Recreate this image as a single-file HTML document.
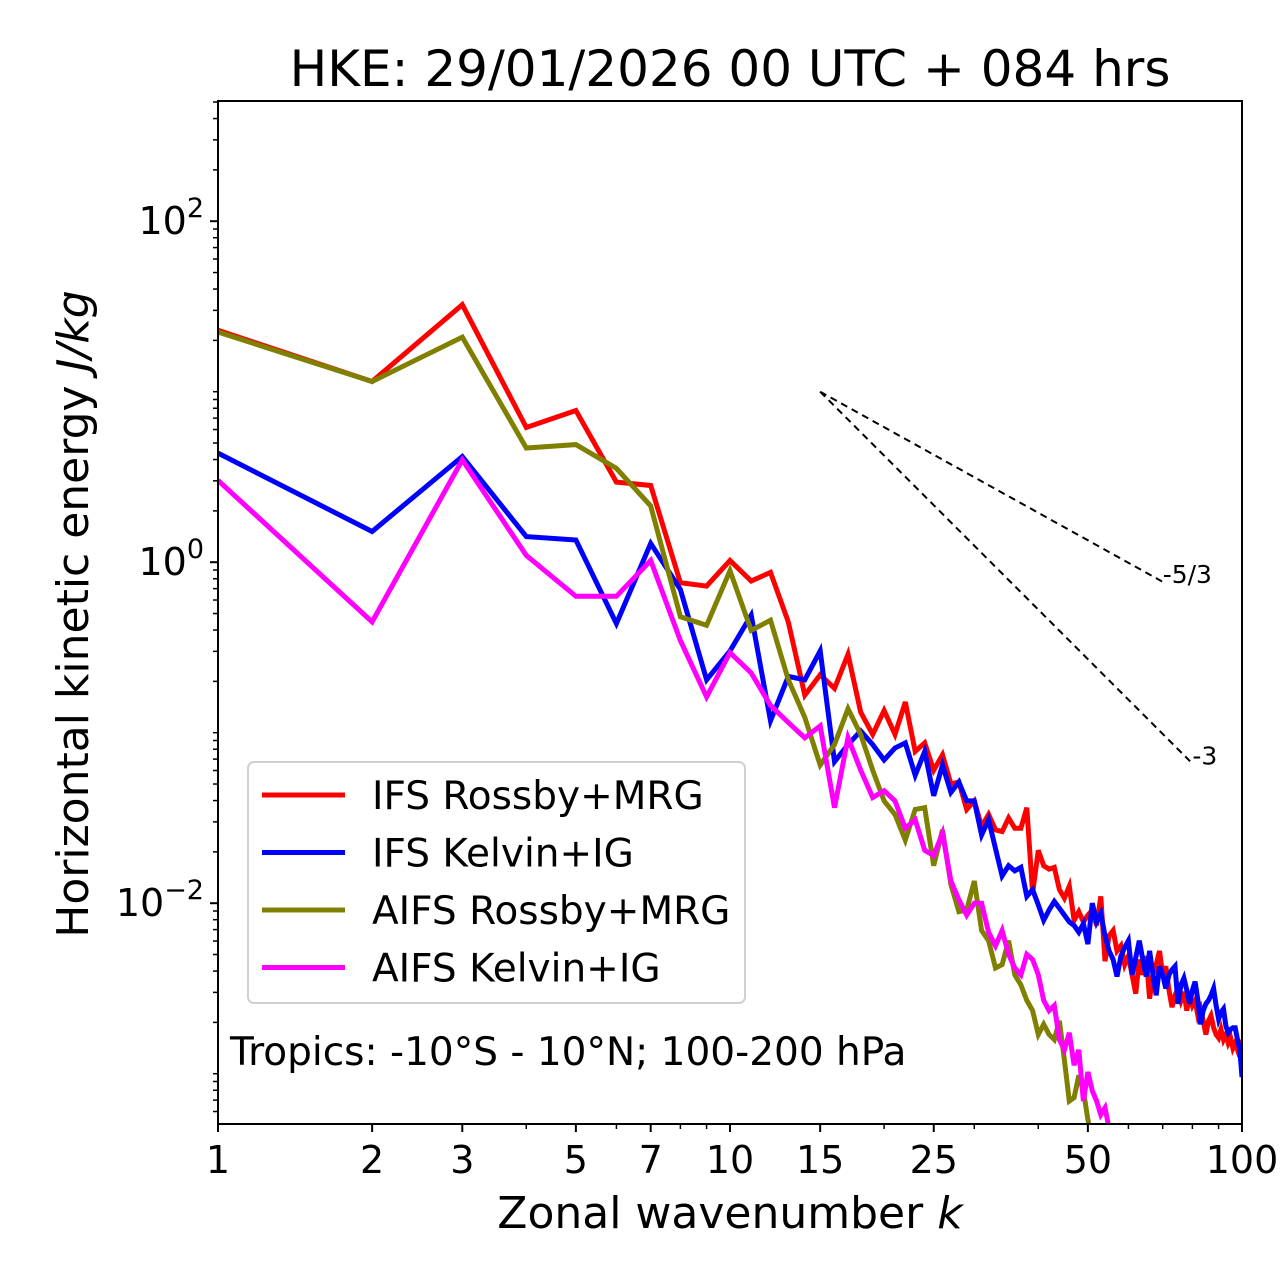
<!DOCTYPE html>
<html><head><meta charset="utf-8"><style>
body{margin:0;background:#fff;}
svg{display:block;font-family:"DejaVu Sans","Liberation Sans",sans-serif;}
</style></head><body>
<svg id="chart" width="1280" height="1288"></svg>
<script>
const kAll = Array.from({length:100},(_,i)=>i+1);
const ifsRossbyLog = [1.36,1.06,1.51,0.79,0.89,0.47,0.45,-0.12,-0.14,0.01,-0.11,-0.06,-0.35,-0.78,-0.66,-0.74,-0.54,-0.88,-1.01,-0.87,-1.01,-0.82,-1.11,-1.06,-1.22,-1.13,-1.30,-1.29,-1.45,-1.40,-1.55,-1.48,
 -1.57,-1.58,-1.50,-1.56,-1.56,-1.44,-1.94,-1.69,-1.78,-1.80,-1.79,-1.92,-1.97,-1.90,-2.10,-2.05,-2.11,-2.07,-2.04,-2.13,-1.96,-2.34,-2.19,-2.16,-2.28,-2.25,-2.36,-2.31,
 -2.42,-2.53,-2.33,-2.42,-2.31,-2.56,-2.42,-2.36,-2.28,-2.42,-2.37,-2.51,-2.61,-2.54,-2.50,-2.57,-2.52,-2.63,-2.54,-2.60,
 -2.57,-2.66,-2.62,-2.69,-2.77,-2.69,-2.66,-2.73,-2.77,-2.79,-2.74,-2.80,-2.77,-2.82,-2.79,-2.85,-2.82,-2.86,-2.90,-2.80];
const ifsKelvinLog = [0.64,0.18,0.62,0.15,0.13,-0.36,0.11,-0.16,-0.69,-0.52,-0.31,-0.93,-0.67,-0.69,-0.52,-1.17,-1.07,-0.99,-1.07,-1.16,-1.09,-1.06,-1.25,-1.11,-1.37,-1.19,-1.35,-1.29,-1.40,
 -1.40,-1.60,-1.51,-1.68,-1.84,-1.78,-1.81,-1.79,-1.96,-1.92,-2.01,-2.10,-2.04,-1.99,-2.03,-2.07,-2.11,-2.13,-2.17,-2.12,-2.24,-2.00,-2.11,-2.06,-2.19,-2.28,-2.33,-2.43,-2.31,-2.26,-2.22,
 -2.42,-2.32,-2.22,-2.33,-2.43,-2.28,-2.42,-2.54,-2.37,-2.42,-2.50,-2.42,-2.39,-2.37,-2.59,-2.48,-2.44,-2.51,-2.59,-2.51,
 -2.46,-2.57,-2.71,-2.63,-2.59,-2.57,-2.54,-2.50,-2.60,-2.68,-2.64,-2.62,-2.72,-2.76,-2.74,-2.73,-2.73,-2.80,-2.86,-3.02];
const aifsRossbyLog = [1.35,1.06,1.32,0.67,0.69,0.55,0.33,-0.32,-0.37,-0.05,-0.40,-0.34,-0.69,-0.91,-1.19,-1.07,-0.86,-1.01,-1.22,-1.40,-1.48,-1.63,-1.45,-1.44,-1.78,-1.57,-1.89,-2.05,-2.04,-1.87,-2.16,-2.22,-2.38,-2.36,-2.22,-2.42,-2.48,-2.57,-2.63,-2.77,-2.71,-2.77,-2.80,-2.69,-2.92,-3.16,-3.14,-3.01,-3.10,-3.27,-3.39,-3.45];
const aifsKelvinLog = [0.48,-0.35,0.60,0.04,-0.20,-0.20,0.01,-0.46,-0.79,-0.53,-0.65,-0.84,-0.94,-1.03,-0.96,-1.44,-1.03,-1.22,-1.38,-1.34,-1.40,-1.56,-1.51,-1.69,-1.72,-1.59,-1.87,-1.98,-2.07,-2.00,-2.00,-2.17,-2.25,-2.16,-2.30,-2.38,-2.42,-2.30,-2.33,-2.42,-2.57,-2.63,-2.60,-2.80,-2.86,-2.76,-2.95,-2.86,-3.16,-2.99,-3.10,-3.16,-3.24,-3.20,-3.32];
const seriesNames = ["IFS Rossby+MRG","IFS Kelvin+IG","AIFS Rossby+MRG","AIFS Kelvin+IG"];
const seriesColors = ["#ff0000","#0000ff","#808000","#ff00ff"];
const xTickLabels = [1,2,3,5,7,10,15,25,50,100];
const xMinorTicks = [4,6,8,9,20,30,40,60,70,80,90];
const refStartK = 15, refStartE = 10, refSlopes = [-5/3,-3], refEndK = [70,80], refLabels = ["-5/3","-3"];

const L=218,R=1242,T=101,B=1124;
const yTop=2.705, yBot=-3.295;
const xs = k => L + (Math.log10(k)/2)*(R-L);
const ysL = lg => T + (yTop-lg)/(yTop-yBot)*(B-T);
const NS="http://www.w3.org/2000/svg";
const svg=document.getElementById('chart');
function mk(tag,attrs,parent){const e=document.createElementNS(NS,tag);for(const a in attrs)e.setAttribute(a,attrs[a]);(parent||svg).appendChild(e);return e;}

const defs=mk('defs',{});
const cp=mk('clipPath',{id:'clip'},defs);mk('rect',{x:L,y:T,width:R-L,height:B-T},cp);

let t=mk('text',{x:730,y:86,'font-size':50,'text-anchor':'middle'});t.textContent="HKE: 29/01/2026 00 UTC + 084 hrs";



const gS=mk('g',{'clip-path':'url(#clip)'});


[ifsRossbyLog,ifsKelvinLog,aifsRossbyLog,aifsKelvinLog].forEach((arr,i)=>{
  const d=arr.map((v,j)=>(j?'L':'M')+xs(kAll[j]).toFixed(1)+','+ysL(v).toFixed(1)).join(' ');
  const p=mk('path',{d:d,fill:'none',stroke:seriesColors[i],'stroke-width':5,'stroke-linejoin':'miter'},gS);
  
  
});

refSlopes.forEach((s,i)=>{
  const x1=xs(refStartK),y1=ysL(Math.log10(refStartE));
  const x2=xs(refEndK[i]),y2=ysL(Math.log10(refStartE)+s*Math.log10(refEndK[i]/refStartK));
  const l=mk('line',{x1:x1,y1:y1,x2:x2,y2:y2,stroke:'#000','stroke-width':2,'stroke-dasharray':'7,5'});
  
  
  const tx=mk('text',{x:x2,y:y2+1,'font-size':25});tx.textContent=refLabels[i];
  
  
});

const fr=mk('rect',{x:L,y:T,width:R-L,height:B-T,fill:'none',stroke:'#000','stroke-width':2});



xTickLabels.forEach(k=>{
  const x=xs(k);mk('line',{x1:x,y1:B,x2:x,y2:B+8,stroke:'#000','stroke-width':2});
  const tl=mk('text',{x:x,y:B+49,'font-size':38,'text-anchor':'middle'});tl.textContent=k;
  
  
});
xMinorTicks.forEach(k=>{const x=xs(k);mk('line',{x1:x,y1:B,x2:x,y2:B+5,stroke:'#000','stroke-width':1.5});});

for(let d=-4;d<=2;d++){
  for(let m=1;m<=9;m++){
    const lg=d+Math.log10(m); if(lg<yBot||lg>yTop) continue;
    const y=ysL(lg); const major=(m===1&&d%2===0);
    mk('line',{x1:L,y1:y,x2:L-(major?8:5),y2:y,stroke:'#000','stroke-width':major?2:1.5});
    if(major){
      const tl=mk('text',{x:L-14,y:y+13,'font-size':38,'text-anchor':'end'});
      const a=mk('tspan',{},tl);a.textContent='10';
      const b=mk('tspan',{dy:-17,'font-size':27},tl);b.textContent=(d<0?'\u2212':'')+Math.abs(d);
      
      
    }
  }
}

t=mk('text',{x:730,y:1228,'font-size':44,'text-anchor':'middle'});
t.innerHTML='Zonal wavenumber <tspan font-style="italic">k</tspan>';


t=mk('text',{x:0,y:0,'font-size':44,'text-anchor':'middle',transform:'translate(88,614) rotate(-90)'});
t.innerHTML='Horizontal kinetic energy <tspan font-style="italic">J/kg</tspan>';



const lg=mk('g',{});


mk('rect',{x:248,y:762,width:497,height:241,rx:6,fill:'#fff','fill-opacity':0.8,stroke:'#d0d0d0','stroke-width':2},lg);
seriesNames.forEach((n,i)=>{
  const y=795+i*57.5;
  const e=mk('g',{},lg);
  
  
  mk('line',{x1:262,y1:y,x2:345,y2:y,stroke:seriesColors[i],'stroke-width':5},e);
  const tx=mk('text',{x:372,y:y+14,'font-size':39},e);tx.textContent=n;
});

t=mk('text',{x:230,y:1065,'font-size':39});t.textContent="Tropics: -10°S - 10°N; 100-200 hPa";


</script>
</body></html>
